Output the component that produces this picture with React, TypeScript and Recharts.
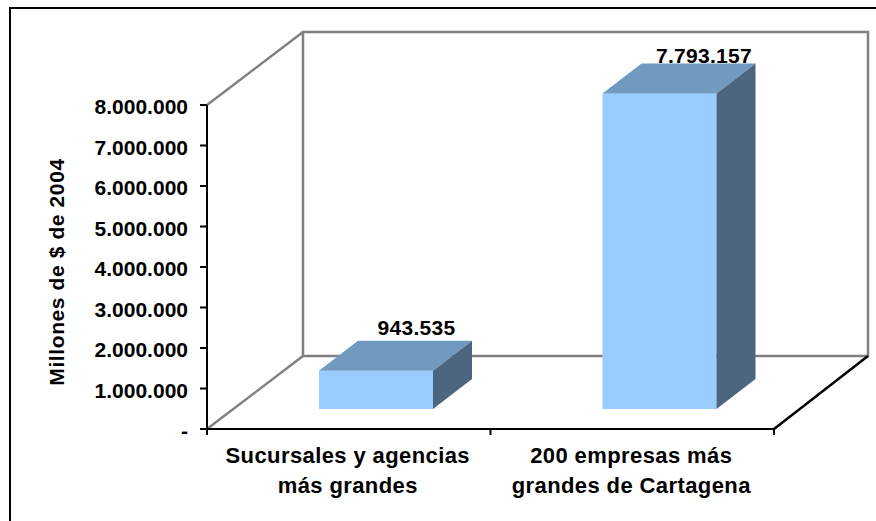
import { BarChart, Bar, XAxis, YAxis, usePlotArea } from 'recharts';

const categories = ['Sucursales y agencias|más grandes', '200 empresas más|grandes de Cartagena'];
const values = [943535, 7793157];
const yTicks = [0, 1000000, 2000000, 3000000, 4000000, 5000000, 6000000, 7000000, 8000000];

const data = categories.map((name, i) => ({ name, value: values[i] }));

const FONT = '"Liberation Sans", Arial, sans-serif';
const DEPTH_X = 96;
const DEPTH_Y = 73;
const BAR_SHIFT_X = 27;
const BAR_SHIFT_Y = 20;
const BAR_DEPTH_X = 39;
const BAR_DEPTH_Y = 30;
// where the reference puts each value label relative to the top of its box
const LABEL_SHIFT = [
  { dx: 21, dy: -6 },
  { dx: 25, dy: 0 },
];

function formatValue(v: number) {
  if (v === 0) return '-';
  return String(v).replace(/\B(?=(\d{3})+$)/g, '.');
}

// back wall, floor and the x axis tick marks between the categories
function Walls() {
  const area = usePlotArea();
  if (!area) return null;
  const { x, y, width, height } = area;
  const bottom = y + height;
  const right = x + width;
  return (
    <g fill="none">
      <rect x={x + DEPTH_X} y={y - DEPTH_Y} width={width - 2} height={height} stroke="#808080" strokeWidth={2.5} />
      <line x1={x} y1={y} x2={x + DEPTH_X} y2={y - DEPTH_Y} stroke="#808080" strokeWidth={2.5} />
      <line x1={x} y1={bottom} x2={x + DEPTH_X} y2={bottom - DEPTH_Y} stroke="#808080" strokeWidth={2.5} />
      <line x1={right} y1={bottom} x2={right + DEPTH_X - 2} y2={bottom - DEPTH_Y} stroke="#000" strokeWidth={2.5} />
      {[0, 0.5, 1].map((f) => (
        <line key={f} x1={x + width * f} y1={bottom} x2={x + width * f} y2={bottom + 6} stroke="#000" strokeWidth={2} />
      ))}
    </g>
  );
}

function Box3D(props: any) {
  const { x, y, width, height, value, index } = props;
  const left = x + BAR_SHIFT_X;
  const top = y - BAR_SHIFT_Y;
  const right = left + width;
  const bottom = top + height;
  const shift = LABEL_SHIFT[index] || { dx: 0, dy: 0 };
  return (
    <g>
      <text
        x={right - width / 2 + BAR_DEPTH_X / 2 + shift.dx}
        y={top - BAR_DEPTH_Y + shift.dy}
        textAnchor="middle"
        fontFamily={FONT}
        fontWeight="bold"
        fontSize={21}
        letterSpacing={0.3}
        fill="#000"
      >
        {formatValue(value)}
      </text>
      <rect x={left} y={top} width={width} height={height} fill="#99CCFF" />
      <polygon
        points={`${left},${top} ${left + BAR_DEPTH_X},${top - BAR_DEPTH_Y} ${right + BAR_DEPTH_X},${top - BAR_DEPTH_Y} ${right},${top}`}
        fill="#7299BF"
      />
      <polygon
        points={`${right},${top} ${right + BAR_DEPTH_X},${top - BAR_DEPTH_Y} ${right + BAR_DEPTH_X},${bottom - BAR_DEPTH_Y} ${right},${bottom}`}
        fill="#4D6680"
      />
    </g>
  );
}

function CategoryTick(props: any) {
  const { x, y, payload } = props;
  const lines = String(payload.value).split('|');
  return (
    <text x={x} y={y} textAnchor="middle" fontFamily={FONT} fontWeight="bold" fontSize={22} letterSpacing={0.4} fill="#000">
      {lines.map((line, i) => (
        <tspan key={line} x={x - 1} y={y + 26 + i * 30}>
          {line}
        </tspan>
      ))}
    </text>
  );
}

export default function App() {
  return (
    <div style={{ position: 'absolute', left: 0, top: 0, width: 876, height: 521, background: '#fff', overflow: 'hidden' }}>
      <div style={{ position: 'absolute', left: 9, top: 7, width: 900, height: 600, border: '2px solid #000' }} />
      <BarChart
        width={876}
        height={521}
        data={data}
        margin={{ top: 105, right: 102, bottom: 0, left: 0 }}
        style={{ position: 'absolute', left: 0, top: 0 }}
      >
        <Walls />
        <XAxis
          dataKey="name"
          height={92}
          interval={0}
          tick={<CategoryTick />}
          tickLine={false}
          axisLine={{ stroke: '#000', strokeWidth: 2 }}
        />
        <YAxis
          width={207}
          domain={[0, 8000000]}
          ticks={yTicks}
          interval={0}
          tickFormatter={formatValue}
          tickSize={7}
          tickMargin={12}
          tick={{ fill: '#000', fontSize: 21, fontWeight: 'bold', fontFamily: FONT, dy: 2 }}
          tickLine={{ stroke: '#000', strokeWidth: 2 }}
          axisLine={{ stroke: '#000', strokeWidth: 2 }}
          label={{
            value: 'Millones de $ de 2004',
            angle: -90,
            position: 'insideLeft',
            offset: 0,
            dx: 57,
            dy: 5,
            style: { fill: '#000', fontSize: 21, fontWeight: 'bold', fontFamily: FONT, textAnchor: 'middle', letterSpacing: 0.6 },
          }}
        />
        <Bar dataKey="value" barSize={114} isAnimationActive={false} shape={<Box3D />} />
      </BarChart>
    </div>
  );
}
